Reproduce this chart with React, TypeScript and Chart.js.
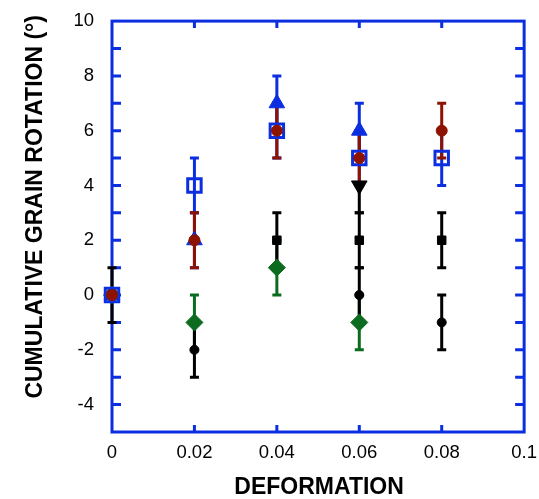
import React, { useEffect, useRef } from "react";
import { Chart, registerables } from "chart.js";

Chart.register(...registerables);

// ---- data ----
const deformation = [0, 0.02, 0.04, 0.06, 0.08];

const openSquare = [0, 4, 6, 5, 5];
const openSquareLow = [null, 3, 5, 4, 4];
const openSquareHigh = [null, 5, 7, 6, 6];

const redCircle = [0, 2, 6, 5, 6];
const redCircleLow = [null, 1, 5, 4, 5];
const redCircleHigh = [null, 3, 7, 6, 7];

const blueTriangle = [0, 2, 7, 6, null];
const blueTriangleLow = [null, 1, 6, 5, null];
const blueTriangleHigh = [null, 3, 8, 7, null];

const blackDownTriangle = [null, null, null, 4, null];
const blackDownTriangleLow = [null, null, null, 3, null];
const blackDownTriangleHigh = [null, null, null, 4, null];

const blackSquare = [0, null, 2, 2, 2];
const blackSquareLow = [-1, null, 1, 1, 1];
const blackSquareHigh = [1, null, 3, 3, 3];

const blackCircle = [0, -2, null, 0, -1];
const blackCircleLow = [null, -3, null, -1, -2];
const blackCircleHigh = [null, -1, null, 1, 0];

const greenDiamond = [0, -1, 1, -1, null];
const greenDiamondLow = [null, -2, 0, -2, null];
const greenDiamondHigh = [null, 0, 2, 0, null];

const yLabels = [-4, -2, 0, 2, 4, 6, 8, 10];
const xTitle = "DEFORMATION";
const yTitle = "CUMULATIVE GRAIN ROTATION (°)";

const BLUE = "#0b2fe0";
const RED = "#8e1200";
const GREEN = "#0b6b1f";
const BLACK = "#000000";
const FONT = "'Liberation Sans', Arial, Helvetica, sans-serif";

type Series = {
  values: (number | null)[];
  low: (number | null)[];
  high: (number | null)[];
  color: string;
};

// error bars drawn bottom -> top
const errorSeries: Series[] = [
  { values: greenDiamond, low: greenDiamondLow, high: greenDiamondHigh, color: GREEN },
  { values: blackCircle, low: blackCircleLow, high: blackCircleHigh, color: BLACK },
  { values: blackSquare, low: blackSquareLow, high: blackSquareHigh, color: BLACK },
  { values: openSquare, low: openSquareLow, high: openSquareHigh, color: BLUE },
  { values: blueTriangle, low: blueTriangleLow, high: blueTriangleHigh, color: BLUE },
  { values: blackDownTriangle, low: blackDownTriangleLow, high: blackDownTriangleHigh, color: BLACK },
  { values: redCircle, low: redCircleLow, high: redCircleHigh, color: RED },
];

const toPoints = (vals: (number | null)[]) =>
  deformation
    .map((x, i) => (vals[i] === null ? null : { x, y: vals[i] as number }))
    .filter((p) => p !== null);

const framePlugin = {
  id: "framePlugin",
  beforeDatasetsDraw(chart: any) {
    const { ctx, chartArea, scales } = chart;
    const { left, right, top, bottom } = chartArea;
    const xs = scales.x;
    const ys = scales.y;
    ctx.save();
    ctx.strokeStyle = BLUE;
    ctx.lineWidth = 3;
    ctx.lineCap = "butt";
    ctx.strokeRect(left, top, right - left, bottom - top);
    ctx.beginPath();
    ys.ticks.forEach((t: any) => {
      if (t.value <= ys.min || t.value >= ys.max) return;
      const py = ys.getPixelForValue(t.value);
      ctx.moveTo(left, py);
      ctx.lineTo(left + 9, py);
      ctx.moveTo(right, py);
      ctx.lineTo(right - 9, py);
    });
    xs.ticks.forEach((t: any) => {
      if (t.value <= xs.min + 1e-9 || t.value >= xs.max - 1e-9) return;
      const px = xs.getPixelForValue(t.value);
      ctx.moveTo(px, top);
      ctx.lineTo(px, top + 7);
      ctx.moveTo(px, bottom);
      ctx.lineTo(px, bottom - 7);
    });
    ctx.stroke();

    // error bars
    ctx.lineWidth = 3;
    const cap = 4.5;
    errorSeries.forEach((s) => {
      ctx.strokeStyle = s.color;
      ctx.beginPath();
      deformation.forEach((xv, i) => {
        const lo = s.low[i];
        const hi = s.high[i];
        if (lo === null || hi === null) return;
        const px = xs.getPixelForValue(xv);
        const pl = ys.getPixelForValue(lo);
        const ph = ys.getPixelForValue(hi);
        ctx.moveTo(px, pl);
        ctx.lineTo(px, ph);
        if (s.values[i] !== null && lo < (s.values[i] as number)) {
          ctx.moveTo(px - cap, pl);
          ctx.lineTo(px + cap, pl);
        }
        if (s.values[i] !== null && hi > (s.values[i] as number)) {
          ctx.moveTo(px - cap, ph);
          ctx.lineTo(px + cap, ph);
        }
      });
      ctx.stroke();
    });
    ctx.restore();
  },
  afterDraw(chart: any) {
    const { ctx, chartArea } = chart;
    const { left, right, top, bottom } = chartArea;
    ctx.save();
    ctx.fillStyle = BLACK;
    ctx.font = `bold 23px ${FONT}`;
    ctx.textAlign = "center";
    ctx.textBaseline = "middle";
    ctx.fillText(xTitle, (left + right) / 2 + 1, bottom + 56);
    ctx.translate(left - 76, top + (bottom - top) * 0.452);
    ctx.rotate(-Math.PI / 2);
    ctx.fillText(yTitle, 0, 0);
    ctx.restore();
  },
};

export default function App() {
  const ref = useRef<HTMLCanvasElement | null>(null);

  useEffect(() => {
    if (!ref.current) return;
    const common = { showLine: false, clip: false as any };
    const chart = new Chart(ref.current, {
      type: "scatter",
      data: {
        datasets: [
          {
            ...common,
            label: "black down triangle",
            data: toPoints(blackDownTriangle) as any,
            pointStyle: "triangle",
            rotation: 180,
            pointRadius: 9,
            backgroundColor: BLACK,
            borderColor: BLACK,
            borderWidth: 1,
            order: 0,
          },
          {
            ...common,
            label: "red circle",
            data: toPoints(redCircle) as any,
            pointStyle: "circle",
            pointRadius: 5.5,
            backgroundColor: RED,
            borderColor: RED,
            borderWidth: 1,
            order: 1,
          },
          {
            ...common,
            label: "blue triangle",
            data: toPoints(blueTriangle) as any,
            pointStyle: "triangle",
            pointRadius: 9,
            backgroundColor: BLUE,
            borderColor: BLUE,
            borderWidth: 1,
            order: 2,
          },
          {
            ...common,
            label: "blue open square",
            data: toPoints(openSquare) as any,
            pointStyle: "rect",
            pointRadius: 9.5,
            backgroundColor: "rgba(0,0,0,0)",
            borderColor: BLUE,
            borderWidth: 3,
            order: 3,
          },
          {
            ...common,
            label: "black square",
            data: toPoints(blackSquare) as any,
            pointStyle: "rect",
            pointRadius: 6,
            backgroundColor: BLACK,
            borderColor: BLACK,
            borderWidth: 1,
            order: 4,
          },
          {
            ...common,
            label: "black circle",
            data: toPoints(blackCircle) as any,
            pointStyle: "circle",
            pointRadius: 4.5,
            backgroundColor: BLACK,
            borderColor: BLACK,
            borderWidth: 1,
            order: 5,
          },
          {
            ...common,
            label: "green diamond",
            data: toPoints(greenDiamond) as any,
            pointStyle: "rectRot",
            pointRadius: 8.5,
            backgroundColor: GREEN,
            borderColor: GREEN,
            borderWidth: 1,
            order: 6,
          },
        ],
      },
      options: {
        animation: false,
        responsive: false,
        devicePixelRatio: 1,
        layout: { padding: { top: 20, right: 14, left: 0, bottom: 0 } },
        plugins: {
          legend: { display: false },
          tooltip: { enabled: false },
          title: { display: false },
        },
        scales: {
          x: {
            type: "linear",
            min: 0,
            max: 0.1,
            grid: { display: false },
            border: { display: false },
            afterFit: (s: any) => {
              s.height = 67;
            },
            ticks: {
              stepSize: 0.02,
              autoSkip: false,
              maxRotation: 0,
              padding: 2,
              color: BLACK,
              font: { family: FONT, size: 18.5 },
              callback: (v: any) => String(+Number(v).toFixed(4)),
            },
          },
          y: {
            type: "linear",
            min: -5,
            max: 10,
            grid: { display: false },
            border: { display: false },
            afterFit: (s: any) => {
              s.width = 112;
            },
            ticks: {
              stepSize: 1,
              autoSkip: false,
              padding: 10,
              color: BLACK,
              font: { family: FONT, size: 18.5 },
              callback: (v: any) => (yLabels.includes(Number(v)) ? String(v) : ""),
            },
          },
        },
      },
      plugins: [framePlugin],
    });
    return () => chart.destroy();
  }, []);

  return (
    <canvas
      ref={ref}
      width={539}
      height={499}
      style={{ position: "fixed", left: 0, top: 0, width: 539, height: 499 }}
    />
  );
}
